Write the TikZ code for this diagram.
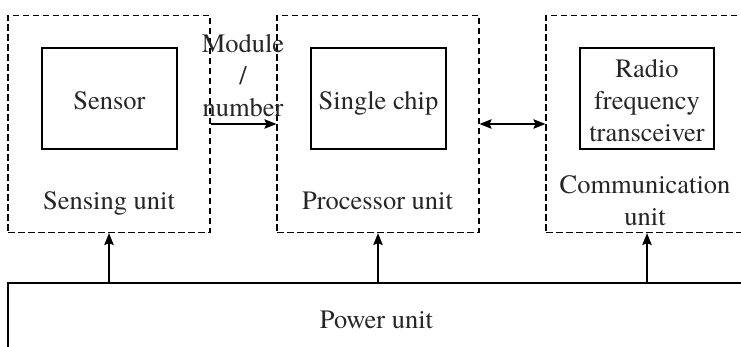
\documentclass[tikz,border=0pt]{standalone}
\usepackage{fontspec}
\setmainfont{TeX Gyre Termes}
\usetikzlibrary{arrows.meta}
\begin{document}
\begin{tikzpicture}[x=1pt,y=-1pt,
  every node/.style={font=\rmfamily\fontsize{26.5}{32}\selectfont, text=black!85, inner sep=0pt},
  unitbox/.style={draw, dash pattern=on 6.5pt off 3.5pt, line width=1.2pt, minimum width=202pt, minimum height=217pt},
  innerbox/.style={draw, line width=1.3pt, minimum width=135pt, minimum height=101pt},
  tip/.tip={Stealth[length=12pt,width=9.5pt,inset=2pt]},
  arr/.style={line width=1.3pt, -tip},
  darr/.style={line width=1.3pt, tip-tip},
  lbl/.style={align=center}]
\clip (0,0) rectangle (741,347);
\fill[white] (0,0) rectangle (741,347);
% unit boxes
\node[unitbox] (sens) at (109,124) {};
\node[unitbox] (proc) at (378,124) {};
\node[unitbox] (comm) at (647,124) {};
% inner boxes
\node[innerbox] (sensor) at (109.5,98.5) {};
\node[innerbox] (chip) at (378.5,98.5) {};
\node[innerbox, minimum width=134pt] (radio) at (647,98.5) {};
% texts
\node[anchor=base] (sensortxt) at (109.5,110) {Sensor};
\node[anchor=base] (chiptxt) at (378.5,110) {Single chip};
\node[lbl] (radiotxt) at (647,100.5) {Radio\\frequency\\transceiver};
\node[anchor=base] (senslbl) at (109,210) {Sensing unit};
\node[anchor=base] (proclbl) at (377.5,210) {Processor unit};
\node[lbl] (commlbl) at (645,201) {Communication\\unit};
\node[lbl] (modlbl) at (243,76) {Module\\/\\number};
% power unit
\node[draw, line width=1.3pt, minimum width=737pt, minimum height=74pt] (power) at (376.5,320) {};
\node[anchor=base] (powertxt) at (376.5,328) {Power unit};
% connectors
\draw[arr] (sens.east) -- (proc.west);
\draw[darr] (proc.east) -- (comm.west);
\draw[arr] (power.north -| sens.south) -- (sens.south);
\draw[arr] (power.north -| proc.south) -- (proc.south);
\draw[arr] (power.north -| comm.south) -- (comm.south);
\end{tikzpicture}
\end{document}
